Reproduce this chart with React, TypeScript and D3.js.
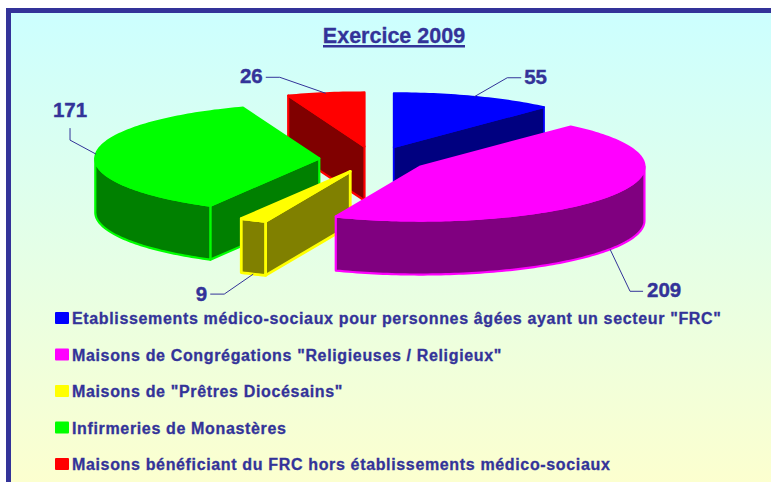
import React from "react";
import * as d3 from "d3";

const categories = [
  'Etablissements médico-sociaux pour personnes âgées ayant un secteur "FRC"',
  'Maisons de Congrégations "Religieuses / Religieux"',
  'Maisons de "Prêtres Diocésains"',
  "Infirmeries de Monastères",
  "Maisons bénéficiant du FRC hors établissements médico-sociaux",
];
const values = [55, 209, 9, 171, 26];
const topColors = ["#0000ff", "#ff00ff", "#ffff00", "#00ff00", "#ff0000"];
const sideColors = ["#000080", "#800080", "#808000", "#008000", "#800000"];
const edgeWidths = [1.8, 2.2, 2.8, 2.2, 2.2];
const title = "Exercice 2009";

// painter's order, back to front
const drawOrder = [4, 0, 3, 2, 1];
// leader geometry relative to each slice's anchor: elbow offset, end offset, text position
const leaderElbows = [[33, -19], [20, 42], [-29, 20], [-26, -14], [-46, -16]];
const leaderEnds = [[47, -19], [33, 42], [-43, 20], [-26, -26], [-60, -16]];
const labelAnchors = ["start", "start", "end", "middle", "end"];
const labelDy = [6, 6, 7, -11, 6];
const labelDx = [3, 4, -3, 0, -3];

const W = 771, H = 482;
const cx = 374, cy = 159.5, rx = 224, ry = 54, depth = 54, explode = 0.245;
const ink = "#333399";
const legendTop = 324, legendStep = 36.5;

const pieGen = d3.pie<number>().sort(null).value((d) => d);
const arcs = pieGen(values);

const px = (a: number) => rx * Math.sin(a);
const py = (a: number) => -ry * Math.cos(a);

const line = d3.line<[number, number]>();

function sampleArc(a0: number, a1: number, ox: number, oy: number) {
  const n = Math.max(2, Math.ceil((a1 - a0) / 0.02));
  const ang = d3.scaleLinear().domain([0, n]).range([a0, a1]);
  return d3.range(n + 1).map((i) => [ox + px(ang(i)), oy + py(ang(i))] as [number, number]);
}

const slices = arcs.map((a, i) => {
  const mid = (a.startAngle + a.endAngle) / 2;
  const ox = cx + explode * px(mid);
  const oy = cy + explode * py(mid);
  const top = sampleArc(a.startAngle, a.endAngle, ox, oy);
  const topPath = line([[ox, oy], ...top]) + "Z";
  const quad = (t: number) => {
    const p: [number, number] = [ox + px(t), oy + py(t)];
    return line([[ox, oy], p, [p[0], p[1] + depth], [ox, oy + depth]]) + "Z";
  };
  // a cut face is only seen when it turns toward the viewer
  const cuts: string[] = [];
  if (Math.sin(a.startAngle) < -1e-6) cuts.push(quad(a.startAngle));
  if (Math.sin(a.endAngle) > 1e-6) cuts.push(quad(a.endAngle));
  const w0 = Math.max(a.startAngle, Math.PI / 2);
  const w1 = Math.min(a.endAngle, (3 * Math.PI) / 2);
  let wall: string | null = null;
  if (w1 > w0) {
    const upper = sampleArc(w0, w1, ox, oy);
    const lower = upper.map(([x, y]) => [x, y + depth] as [number, number]).reverse();
    wall = line([...upper, ...lower]) + "Z";
  }
  const front = Math.cos(mid) < 0;
  const anchor: [number, number] = [ox + px(mid), oy + py(mid) + (front ? depth : 0)];
  return { i, topPath, cuts, wall, anchor };
});

export default function App() {
  return (
    <svg
      width={W}
      height={H}
      viewBox={`0 0 ${W} ${H}`}
      style={{ position: "absolute", left: 0, top: 0, background: "#fff" }}
      fontFamily="'Liberation Sans', Arial, sans-serif"
    >
      <defs>
        <linearGradient id="bg" x1="0" y1="0" x2="0" y2="1">
          <stop offset="0" stopColor="#ccffff" />
          <stop offset="1" stopColor="#ffffcc" />
        </linearGradient>
      </defs>
      <rect x={8.5} y={10.5} width={W + 20} height={H + 20} fill="url(#bg)" stroke={ink} strokeWidth={5} />
      <text x={394} y={43} textAnchor="middle" fontSize={21.5} fontWeight="bold" fill={ink} stroke={ink} strokeWidth={0.3}>
        {title}
      </text>
      <line x1={323} x2={465} y1={46.3} y2={46.3} stroke={ink} strokeWidth={2.4} />

      {drawOrder.map((k) => {
        const s = slices[k];
        return (
          <g key={k} stroke={topColors[k]} strokeWidth={edgeWidths[k]} strokeLinejoin="round">
            {s.cuts.map((d, j) => (
              <path key={j} d={d} fill={sideColors[k]} />
            ))}
            {s.wall && <path d={s.wall} fill={sideColors[k]} />}
            <path d={s.topPath} fill={topColors[k]} />
          </g>
        );
      })}

      {slices.map((s, k) => {
        const [ax, ay] = s.anchor;
        const pts: [number, number][] = [
          [ax, ay],
          [ax + leaderElbows[k][0], ay + leaderElbows[k][1]],
          [ax + leaderEnds[k][0], ay + leaderEnds[k][1]],
        ];
        return (
          <g key={k}>
            <path d={line(pts) ?? ""} fill="none" stroke={ink} strokeWidth={1} />
            <text
              x={pts[2][0] + labelDx[k]}
              y={pts[2][1] + labelDy[k]}
              textAnchor={labelAnchors[k]}
              fontSize={20.5}
              fontWeight="bold"
              fill={ink}
              stroke={ink}
              strokeWidth={0.4}
            >
              {values[k]}
            </text>
          </g>
        );
      })}

      {categories.map((c, k) => {
        const base = legendTop + k * legendStep;
        return (
          <g key={c}>
            <rect x={55} y={base - 12} width={14} height={12} fill={topColors[k]} rx={1} />
            <text x={72} y={base} fontSize={16} fontWeight="bold" fill={ink} stroke={ink} strokeWidth={0.3} letterSpacing={0.65}>
              {c}
            </text>
          </g>
        );
      })}
    </svg>
  );
}
